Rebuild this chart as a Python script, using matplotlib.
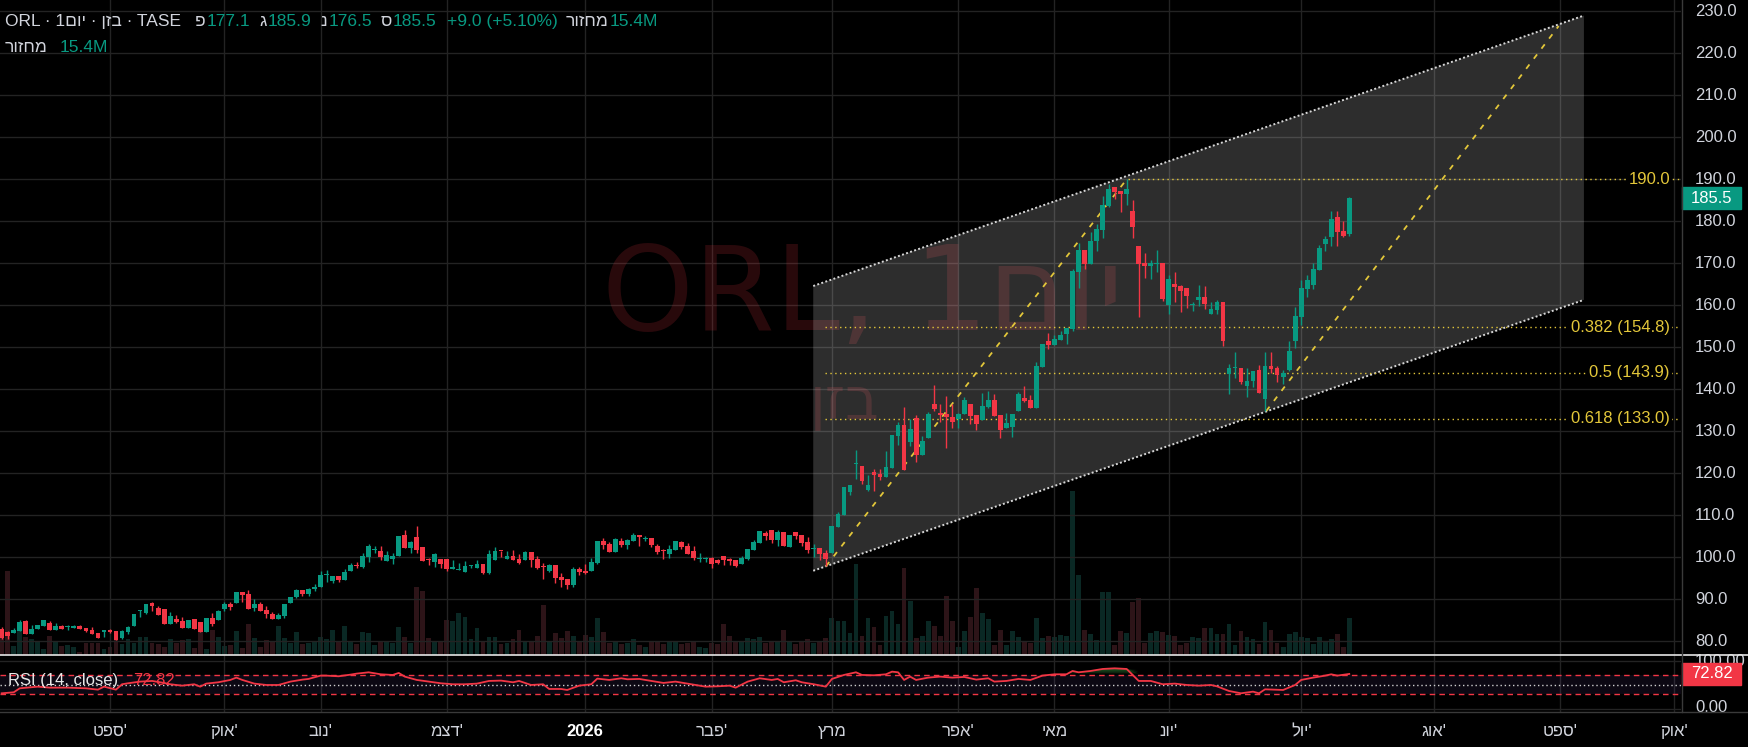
import numpy as np
import matplotlib.pyplot as plt
from matplotlib.lines import Line2D
from matplotlib.patches import Rectangle

plt.rcParams['font.family'] = ['Liberation Sans', 'DejaVu Sans']

W, H = 1748, 747

# daily OHLC (ORL / TASE)
opens = [82.9, 82.1, 82.0, 82.5, 84.9, 81.8, 83.0, 83.7, 84.3, 82.8,
         83.6, 83.3, 83.2, 83.6, 83.1, 82.7, 81.9, 82.1, 82.7, 82.5,
         80.9, 82.2, 83.7, 87.1, 86.8, 89.2, 87.9, 87.7, 84.1, 85.4,
         84.8, 83.2, 85.3, 84.6, 82.1, 85.5, 85.1, 87.8, 88.9, 89.2,
         91.8, 91.3, 88.0, 88.9, 87.5, 86.5, 85.2, 86.0, 89.1, 90.6,
         92.1, 91.2, 92.4, 93.0, 95.8, 94.4, 95.6, 94.6, 96.7, 98.1,
         97.7, 100.15, 101.8, 101.5, 99.2, 99.6, 100.3, 105.3, 102.1, 104.8,
         102.45, 99.4, 99.0, 99.6, 99.6, 97.1, 96.9, 96.6, 98.0, 97.45,
         98.4, 96.3, 99.4, 101.5, 99.6, 100.3, 99.6, 99.4, 101.3, 99.6,
         97.8, 96.7, 98.1, 95.3, 94.8, 93.5, 97.2, 96.8, 96.8, 98.65,
         103.9, 103.2, 101.3, 103.9, 102.9, 103.9, 105.3, 104.4, 104.6, 102.7,
         101.6, 100.8, 101.7, 103.65, 102.7, 101.5, 99.5, 99.55, 99.8, 99.4,
         100.3, 99.6, 99.4, 98.4, 99.6, 101.7, 103.4, 105.8, 106.5, 104.1,
         106.0, 102.5, 106.0, 105.3, 103.65, 101.9, 102.2, 101.0, 101.0, 107.2,
         110.1, 115.55, 122.1, 121.7, 116.1, 120.4, 119.8, 119.1, 121.35, 128.9,
         131.5, 127.5, 133.1, 124.4, 128.3, 136.4, 134.4, 134.05, 133.4, 132.9,
         134.05, 136.4, 133.8, 132.6, 135.9, 137.4, 133.8, 130.9, 131.1, 134.8,
         137.9, 137.4, 135.6, 145.4, 151.5, 150.6, 151.75, 153.2, 154.45, 168.0,
         173.2, 169.9, 175.2, 178.0, 183.7, 188.2, 187.2, 186.6, 182.5, 174.1,
         170.1, 169.45, 169.9, 170.1, 160.0, 165.1, 164.6, 164.1, 160.0, 161.35,
         162.0, 158.0, 159.0, 160.8, 143.7, 145.0, 145.0, 140.9, 142.1, 144.5,
         137.8, 145.5, 145.0, 143.0, 144.6, 151.5, 157.3, 164.0, 164.8, 168.5,
         174.6, 176.35, 181.0, 177.7, 177.1]
highs = [83.3, 82.5, 83.2, 85.1, 85.1, 83.9, 83.8, 85.1, 84.8, 84.3,
         83.9, 83.9, 83.8, 83.9, 83.1, 83.3, 81.9, 82.7, 83.0, 82.5,
         82.7, 83.7, 86.5, 87.5, 88.9, 89.4, 88.3, 87.7, 87.0, 86.3,
         85.7, 85.1, 85.3, 84.6, 85.6, 86.7, 87.5, 89.4, 89.4, 91.8,
         91.8, 92.2, 90.0, 89.4, 88.4, 87.0, 86.7, 88.8, 90.6, 92.5,
         92.2, 92.7, 93.6, 96.7, 97.0, 95.6, 95.6, 97.1, 98.6, 99.0,
         101.0, 103.2, 102.7, 102.7, 101.5, 101.0, 105.1, 106.5, 103.9, 107.45,
         102.45, 99.75, 101.0, 99.6, 99.6, 99.4, 98.6, 99.1, 98.1, 99.4,
         98.4, 101.7, 102.4, 101.5, 101.5, 101.7, 100.8, 101.5, 101.3, 100.3,
         98.6, 98.4, 98.1, 96.3, 94.8, 97.7, 97.8, 98.4, 99.8, 103.9,
         104.5, 103.65, 104.6, 104.6, 104.4, 105.8, 105.3, 105.1, 104.6, 103.2,
         102.0, 102.9, 103.9, 103.9, 103.4, 102.7, 101.0, 100.1, 100.1, 99.6,
         100.3, 99.8, 99.4, 100.3, 102.0, 104.1, 106.3, 106.3, 106.5, 106.5,
         106.0, 105.3, 106.0, 105.3, 104.8, 103.2, 102.2, 101.7, 107.5, 110.8,
         116.7, 117.2, 125.55, 121.7, 119.7, 121.1, 121.0, 125.3, 129.1, 132.1,
         135.8, 132.9, 133.8, 128.9, 134.6, 141.0, 136.4, 138.3, 136.4, 134.45,
         138.2, 136.4, 133.8, 139.1, 139.6, 138.8, 133.8, 134.3, 134.05, 139.4,
         140.8, 138.6, 146.5, 150.8, 153.4, 153.0, 153.9, 154.6, 168.6, 174.8,
         173.2, 177.5, 179.3, 186.0, 188.8, 188.2, 187.2, 190.0, 185.0, 174.1,
         172.5, 170.8, 173.2, 170.1, 167.2, 167.9, 164.85, 164.1, 160.8, 164.85,
         164.6, 160.8, 161.3, 160.8, 146.0, 148.9, 145.0, 145.0, 144.3, 145.7,
         148.9, 148.9, 145.5, 144.5, 151.5, 159.6, 166.0, 167.2, 170.1, 174.4,
         176.5, 182.5, 182.5, 180.1, 185.9]
lows = [80.6, 80.6, 82.0, 82.5, 81.8, 81.8, 83.0, 83.7, 82.8, 82.8,
        83.0, 82.7, 83.2, 83.0, 82.3, 81.8, 80.9, 81.1, 81.9, 80.2,
        80.6, 81.8, 83.7, 85.7, 86.4, 87.3, 86.3, 84.1, 84.1, 84.3,
        83.2, 83.2, 83.0, 82.1, 82.1, 83.7, 85.1, 87.3, 87.5, 89.2,
        89.4, 87.8, 87.2, 87.2, 85.6, 85.3, 85.2, 85.6, 89.1, 90.2,
        90.8, 90.9, 92.0, 93.0, 94.2, 94.0, 94.2, 94.6, 96.7, 97.4,
        97.5, 99.0, 101.1, 99.4, 99.2, 98.4, 100.3, 102.3, 101.1, 101.1,
        99.2, 98.2, 97.8, 97.45, 96.8, 97.1, 96.9, 96.6, 97.45, 97.45,
        96.0, 96.1, 99.4, 100.0, 99.6, 99.4, 98.5, 99.4, 97.7, 97.3,
        94.9, 96.5, 94.0, 92.85, 92.5, 92.9, 95.8, 96.0, 96.8, 98.3,
        102.0, 101.3, 101.3, 102.5, 102.0, 103.9, 102.7, 104.0, 102.4, 100.8,
        99.6, 99.8, 101.7, 102.0, 100.8, 99.4, 98.9, 98.8, 97.5, 98.4,
        98.2, 98.2, 97.7, 98.4, 99.4, 101.7, 103.4, 104.1, 103.4, 102.7,
        102.7, 102.5, 104.4, 102.7, 101.0, 100.1, 99.4, 97.85, 101.0, 107.2,
        110.1, 114.8, 118.65, 117.4, 115.7, 115.9, 118.4, 119.1, 121.35, 126.75,
        120.8, 126.5, 122.8, 124.4, 128.3, 134.8, 132.1, 126.1, 130.9, 130.9,
        134.05, 131.8, 130.4, 132.6, 135.5, 133.65, 128.5, 130.9, 128.7, 134.8,
        137.1, 135.6, 135.6, 145.4, 149.7, 150.6, 151.75, 150.8, 153.9, 164.2,
        168.7, 169.9, 172.9, 176.0, 183.3, 185.2, 182.3, 183.9, 176.1, 157.3,
        166.6, 166.35, 168.0, 161.0, 157.9, 160.9, 158.3, 159.45, 158.65, 159.85,
        159.2, 158.0, 158.0, 150.2, 139.0, 142.6, 141.35, 138.25, 140.6, 139.2,
        134.84, 144.0, 141.8, 141.35, 144.4, 149.9, 155.4, 162.1, 163.9, 168.5,
        172.9, 174.2, 174.2, 176.35, 176.5]
closes = [80.9, 81.3, 82.7, 84.6, 81.8, 82.9, 83.8, 85.1, 82.8, 83.6,
          83.0, 83.4, 83.6, 83.0, 82.5, 81.8, 80.9, 82.7, 82.3, 80.2,
          82.5, 83.3, 86.5, 87.3, 88.9, 88.5, 86.3, 84.1, 86.0, 84.6,
          83.2, 85.1, 83.0, 82.1, 85.6, 84.2, 87.2, 88.9, 88.2, 91.8,
          91.0, 87.8, 88.9, 87.2, 86.4, 85.3, 86.2, 88.8, 90.6, 92.1,
          91.2, 92.4, 92.9, 95.8, 95.95, 95.6, 94.6, 96.5, 98.2, 97.95,
          100.3, 102.7, 101.9, 100.15, 100.55, 100.3, 105.1, 102.3, 103.65, 101.7,
          99.2, 99.3, 100.8, 98.5, 97.3, 97.7, 97.0, 97.9, 98.1, 98.4,
          96.3, 100.8, 101.5, 101.4, 100.3, 99.4, 98.6, 101.3, 99.4, 97.45,
          97.7, 98.1, 95.15, 94.7, 93.5, 97.2, 96.6, 96.3, 98.9, 103.9,
          102.9, 101.3, 104.4, 102.9, 104.1, 105.3, 104.9, 104.5, 102.9, 101.3,
          101.5, 102.0, 103.9, 102.5, 100.8, 99.8, 99.6, 99.65, 98.4, 98.65,
          99.4, 99.1, 97.9, 99.8, 102.0, 103.65, 106.3, 105.1, 104.1, 106.0,
          102.7, 105.3, 105.1, 103.4, 101.7, 102.0, 100.8, 99.6, 107.5, 110.3,
          116.7, 117.2, 122.2, 118.1, 117.1, 119.5, 119.1, 121.5, 129.1, 131.5,
          120.8, 130.5, 124.4, 127.7, 134.05, 135.4, 133.9, 133.3, 132.1, 134.05,
          137.4, 133.65, 131.8, 136.0, 137.4, 133.65, 130.2, 131.9, 134.05, 138.9,
          137.2, 135.6, 145.6, 150.8, 150.6, 152.1, 152.9, 154.6, 168.2, 173.2,
          169.9, 175.3, 178.1, 183.9, 187.7, 187.1, 186.6, 187.7, 178.65, 169.9,
          169.45, 170.1, 170.0, 161.6, 166.3, 164.45, 163.3, 162.3, 160.1, 162.0,
          160.4, 159.1, 160.8, 151.5, 145.0, 145.1, 141.8, 142.1, 144.3, 139.2,
          145.5, 144.9, 143.5, 143.8, 149.1, 157.5, 164.1, 166.0, 168.65, 173.65,
          175.8, 180.55, 177.5, 176.5, 185.5]
# turnover in millions
volumes = [7.2, 35.0, 3.7, 10.4, 7.6, 6.7, 5.5, 2.5, 8.0, 5.5,
           3.7, 4.2, 3.3, 1.2, 5.1, 5.1, 5.1, 2.5, 3.3, 9.7,
           4.6, 6.7, 5.1, 7.4, 7.4, 5.1, 4.6, 3.3, 6.7, 5.1,
           6.2, 6.7, 2.9, 10.4, 2.5, 10.6, 7.4, 3.7, 4.2, 10.0,
           2.9, 12.9, 7.0, 3.3, 6.2, 5.8, 12.1, 7.0, 4.9, 9.6,
           4.5, 5.0, 6.0, 7.5, 6.5, 10.4, 5.5, 12.1, 6.0, 4.5,
           9.6, 9.0, 4.0, 5.5, 6.0, 5.0, 11.6, 7.5, 5.0, 28.3,
           26.6, 7.1, 5.5, 6.0, 14.6, 14.0, 17.5, 15.8, 6.5, 11.2,
           6.0, 7.5, 7.5, 4.5, 5.0, 6.5, 10.4, 5.5, 6.0, 8.0,
           20.8, 6.0, 9.2, 7.0, 10.0, 8.0, 6.0, 8.3, 7.5, 15.4,
           9.6, 5.0, 6.0, 4.5, 5.0, 6.5, 4.0, 3.5, 5.5, 6.0,
           4.5, 5.5, 6.0, 4.5, 5.0, 5.5, 3.5, 3.0, 5.0, 4.5,
           12.9, 8.0, 5.5, 6.0, 7.0, 6.5, 7.5, 5.0, 6.0, 5.5,
           10.4, 6.0, 4.5, 5.5, 6.5, 5.0, 6.0, 7.0, 15.4, 14.1,
           14.1, 9.0, 37.9, 8.0, 15.4, 11.6, 4.2, 16.2, 18.3, 12.9,
           36.0, 22.5, 7.1, 8.0, 14.1, 12.1, 7.9, 24.5, 14.1, 3.3,
           10.0, 15.8, 27.9, 17.5, 15.0, 4.2, 10.4, 4.2, 10.0, 7.5,
           5.8, 5.0, 15.4, 7.1, 7.9, 7.5, 8.3, 7.9, 68.2, 33.3,
           10.4, 8.7, 6.2, 26.2, 26.2, 4.2, 10.0, 9.0, 22.0, 23.7,
           5.0, 9.2, 10.0, 9.6, 8.3, 7.9, 4.2, 5.0, 7.5, 7.1,
           11.2, 11.2, 8.7, 8.7, 12.9, 4.2, 10.0, 7.5, 6.7, 4.6,
           13.7, 10.4, 5.0, 3.3, 8.7, 9.6, 7.5, 7.1, 4.6, 7.5,
           5.8, 6.7, 8.7, 3.3, 15.4]

rsi_idx = [0, 2, 3, 6, 8, 11, 14, 16, 17, 19,
           20, 21, 23, 25, 27, 28, 30, 32, 33, 34,
           36, 38, 39, 40, 42, 44, 46, 48, 50, 51,
           53, 54, 56, 58, 59, 61, 63, 65, 66, 67,
           69, 71, 73, 75, 77, 79, 81, 83, 85, 86,
           88, 90, 91, 93, 94, 96, 98, 99, 101, 103,
           104, 106, 108, 110, 112, 114, 116, 117, 119, 121,
           122, 124, 126, 128, 129, 130, 132, 133, 135, 137,
           138, 140, 142, 143, 145, 147, 148, 149, 150, 151,
           152, 154, 156, 158, 160, 162, 164, 165, 167, 169,
           171, 173, 175, 177, 178, 179, 181, 183, 185, 187,
           189, 191, 193, 195, 197, 199, 201, 202, 204, 206,
           208, 209, 210, 213, 215, 216, 218, 220, 221, 222,
           224]
rsi_val = [32.1, 34.2, 42.6, 46.1, 44.0, 44.0, 42.6, 39.8, 46.1, 39.8,
           51.1, 53.2, 56.7, 58.1, 53.9, 51.1, 48.2, 51.1, 46.1, 52.5,
           55.3, 60.2, 65.1, 60.2, 52.5, 49.6, 49.6, 56.7, 60.9, 62.3,
           69.3, 69.3, 67.9, 71.4, 73.5, 76.3, 72.1, 70.7, 74.9, 67.2,
           60.2, 56.7, 53.2, 51.1, 51.1, 52.5, 58.1, 58.8, 55.3, 58.1,
           49.6, 51.1, 41.2, 41.2, 39.1, 48.2, 51.1, 63.0, 60.2, 63.7,
           61.6, 62.3, 58.1, 53.9, 56.7, 52.5, 48.2, 46.1, 46.8, 48.2,
           44.0, 56.7, 63.7, 60.2, 62.3, 55.3, 59.5, 55.3, 51.1, 46.1,
           62.3, 70.7, 76.3, 70.7, 70.0, 72.1, 77.7, 76.3, 60.2, 67.2,
           60.2, 65.1, 67.2, 65.1, 66.5, 60.9, 63.7, 56.7, 58.1, 62.3,
           60.2, 69.3, 72.1, 72.1, 79.1, 76.3, 79.1, 83.3, 84.7, 83.3,
           58.1, 58.1, 51.1, 52.5, 49.6, 48.2, 49.6, 46.8, 37.0, 32.1,
           35.6, 32.1, 40.5, 39.1, 49.6, 60.2, 65.1, 69.3, 72.1, 69.3,
           72.82]

# month starts (bar index) and their labels
month_idx = [18, 37, 53, 74, 97, 118, 138, 159, 175, 194, 216, 238, 259, 278]
month_names = ["ספט'", "אוק'", "נוב'", "דצמ'", "2026", "פבר'", "מרץ",
               "אפר'", "מאי", "יונ'", "יול'", "אוג'", "ספט'", "אוק'"]

# drawings: parallel channel, fib retracement, trend lines
chan_x = [134.9, 263.0]
chan_lower = [96.8, 161.3]
chan_upper = [164.6, 229.0]
fib_line_x = [137, 187]
fib_line_y = [97.85, 190.0]
trend_x = [210.2, 258.8]
trend_y = [134.84, 226.5]
fib_levels = [190.0, 154.8, 143.9, 133.0]
fib_start = [187.2, 136.9, 136.9, 136.9]
fib_labels = ["190.0", "0.382 (154.8)", "0.5 (143.9)", "0.618 (133.0)"]

GREEN = '#089981'
RED = '#f23645'
GRID = '#232323'
TXT = '#d1d4dc'
YEL = '#e3c73a'
FS = 12


def heb(s):
    # no bidi in matplotlib, so Hebrew has to be given in visual order
    return s[::-1]


def month_text(s):
    if s.isdigit():
        return s
    if s.endswith("'"):
        return heb(s[:-1]) + "'"
    return heb(s)


o = np.array(opens)
h = np.array(highs)
l = np.array(lows)
c = np.array(closes)
v = np.array(volumes)
x = np.arange(len(c))
up = c >= o
colors = np.where(up, GREEN, RED)
vol_colors = np.where(up, '#0a2824', '#2d1418')

XL = (-0.28, 279.14)

fig = plt.figure(figsize=(W / 100, H / 100), dpi=100, facecolor='black')
main_rect = [0, 92 / H, 1681 / W, 655 / H]
vax = fig.add_axes(main_rect)
ax = fig.add_axes(main_rect)
rax = fig.add_axes([0, 34.5 / H, 1681 / W, 57.5 / H])
for a in (vax, ax, rax):
    a.set_axis_off()
    a.set_xlim(*XL)
vax.set_zorder(0)
ax.set_zorder(1)
ax.set_ylim(76.74, 232.7)
vax.set_ylim(0, 272.5)
rax.set_ylim(-8.3, 112.7)

# volume
vax.bar(x, v, width=0.8, color=vol_colors, linewidth=0)

# grid
for p in range(80, 240, 10):
    ax.axhline(p, color=GRID, lw=1, zorder=0)
for k in month_idx:
    ax.axvline(k, color=GRID, lw=1, zorder=0)
    rax.axvline(k, color=GRID, lw=1, zorder=0)
rax.axhline(100, color=GRID, lw=1, zorder=0)
rax.axhline(0, color=GRID, lw=1, zorder=0)

# watermark
ax.text(99.8, 154.1, "ORL, 1" + heb("יום"), fontsize=84, color=RED, alpha=0.17,
        family='DejaVu Sans', ha='left', va='baseline', zorder=0.5)
ax.text(140.2, 133.0, heb("בזן"), fontsize=42, color=RED, alpha=0.17,
        family='DejaVu Sans', ha='center', va='baseline', zorder=0.5)

# channel
ax.fill([chan_x[0], chan_x[1], chan_x[1], chan_x[0]],
        [chan_lower[0], chan_lower[1], chan_upper[1], chan_upper[0]],
        color='white', alpha=0.18, lw=0, zorder=1)
ax.plot(chan_x, chan_lower, color='#d8d8d8', lw=1.4, ls=(0, (1, 1.2)), zorder=2)
ax.plot(chan_x, chan_upper, color='#d8d8d8', lw=1.4, ls=(0, (1, 1.2)), zorder=2)

# fib levels
for lev, x0, lab in zip(fib_levels, fib_start, fib_labels):
    ax.hlines(lev, x0, XL[1], color=YEL, lw=1, ls=(0, (1, 2.5)), zorder=2)
    ax.text(277.3, lev, lab, color=YEL, fontsize=FS, ha='right', va='center',
            zorder=5, bbox=dict(facecolor='black', edgecolor='none', pad=1.5))
ax.plot(fib_line_x, fib_line_y, color=YEL, lw=1.3, ls=(0, (3, 4)), zorder=2)
ax.plot(trend_x, trend_y, color=YEL, lw=1.3, ls=(0, (3, 4)), zorder=2)

# candles
ax.vlines(x, l, h, colors=colors, lw=1, zorder=3)
body_h = np.maximum(np.abs(c - o), 0.25)
ax.bar(x, body_h, bottom=np.minimum(o, c), width=0.8, color=colors,
       linewidth=0, zorder=4)

# price scale
ytr = ax.get_yaxis_transform()
for p in range(80, 231, 10):
    ax.text(1695 / 1681, p, f"{p:.1f}", transform=ytr, ha='left', va='center',
            fontsize=FS, color=TXT, clip_on=False)
ax.add_patch(Rectangle((1682 / 1681, c[-1] - 2.57), 59 / 1681, 5.14, transform=ytr,
                       color=GREEN, clip_on=False, zorder=6))
ax.text(1711.5 / 1681, c[-1], f"{c[-1]:.1f}", transform=ytr, ha='center', va='center',
        fontsize=FS, color='white', clip_on=False, zorder=7)

# RSI pane
rv = np.array(rsi_val)
rax.axhspan(30, 70, color='#7e57c2', alpha=0.1, lw=0, zorder=0.5)
rax.axhline(70, color=RED, lw=1, ls=(0, (4, 3)), zorder=1)
rax.axhline(30, color=RED, lw=1, ls=(0, (4, 3)), zorder=1)
rax.axhline(50, color='#cfcfcf', lw=1, ls=(0, (1, 2)), zorder=1)
for t in (74, 78, 82):
    rax.fill_between(rsi_idx, t, np.maximum(rv, t), where=rv > t, color='#2e7d32',
                     alpha=0.3, lw=0, interpolate=True, zorder=1.5)
rax.plot(rsi_idx, rv, color=RED, lw=1.3, zorder=3)
rtr = rax.get_yaxis_transform()
rax.text(8 / 1681, 60, "RSI (14, close)", transform=rtr, fontsize=FS, color='#e8e8e8',
         va='center', ha='left')
rax.text(133 / 1681, 60, f"{rv[-1]:.2f}", transform=rtr, fontsize=FS, color=RED,
         va='center', ha='left')
rax.text(1695 / 1681, 100, "100.00", transform=rtr, fontsize=FS, color=TXT,
         va='center', ha='left', clip_on=False)
rax.text(1695 / 1681, 2, "0.00", transform=rtr, fontsize=FS, color=TXT,
         va='center', ha='left', clip_on=False)
rax.add_patch(Rectangle((1682 / 1681, rv[-1] - 23.2), 59 / 1681, 46.4, transform=rtr,
                        color=RED, clip_on=False, zorder=6))
rax.text(1711.5 / 1681, rv[-1], f"{rv[-1]:.2f}", transform=rtr, ha='center',
         va='center', fontsize=FS, color='white', clip_on=False, zorder=7)

# time scale
xtr = rax.get_xaxis_transform()
for k, name in zip(month_idx, month_names):
    bold = name.isdigit()
    rax.text(k, -0.334, month_text(name), transform=xtr, ha='center', va='center',
             fontsize=FS, color='white' if bold else TXT,
             fontweight='bold' if bold else 'normal', clip_on=False)

# pane separators
fig.add_artist(Line2D([0, 1], [92 / H, 92 / H], transform=fig.transFigure,
                      color='#e6e6e6', lw=1.2))
fig.add_artist(Line2D([0, 1], [34.7 / H, 34.7 / H], transform=fig.transFigure,
                      color='#3a3a3a', lw=1))
fig.add_artist(Line2D([1681.5 / W, 1681.5 / W], [34.7 / H, 1], transform=fig.transFigure,
                      color='#3a3a3a', lw=1))

# legend header, laid out piece by piece
chg = c[-1] - c[-2]
pct = chg / c[-2] * 100
vol_txt = f"{v[-1]:.1f}M"
renderer = fig.canvas.get_renderer()
HFS = 12.5


def put_row(py, pieces, px=5):
    for s, color, gap in pieces:
        t = fig.text(px / W, 1 - py / H, s, color=color, fontsize=HFS,
                     ha='left', va='center')
        px = t.get_window_extent(renderer).x1 + gap


put_row(21.7, [
    ("ORL · 1" + heb("יום") + " · " + heb("בזן") + " · TASE", TXT, 14),
    ("פ", TXT, 1), (f"{o[-1]:.1f}", GREEN, 9),
    ("ג", TXT, 1), (f"{h[-1]:.1f}", GREEN, 9),
    ("נ", TXT, 1), (f"{l[-1]:.1f}", GREEN, 9),
    ("ס", TXT, 1), (f"{c[-1]:.1f}", GREEN, 10),
    (f"+{chg:.1f} (+{pct:.2f}%)", GREEN, 8),
    (heb("מחזור"), TXT, 1), (vol_txt, GREEN, 0),
])
put_row(48, [(heb("מחזור"), TXT, 12), (vol_txt, GREEN, 0)])

fig.savefig("out.png", dpi=100, facecolor='black')
